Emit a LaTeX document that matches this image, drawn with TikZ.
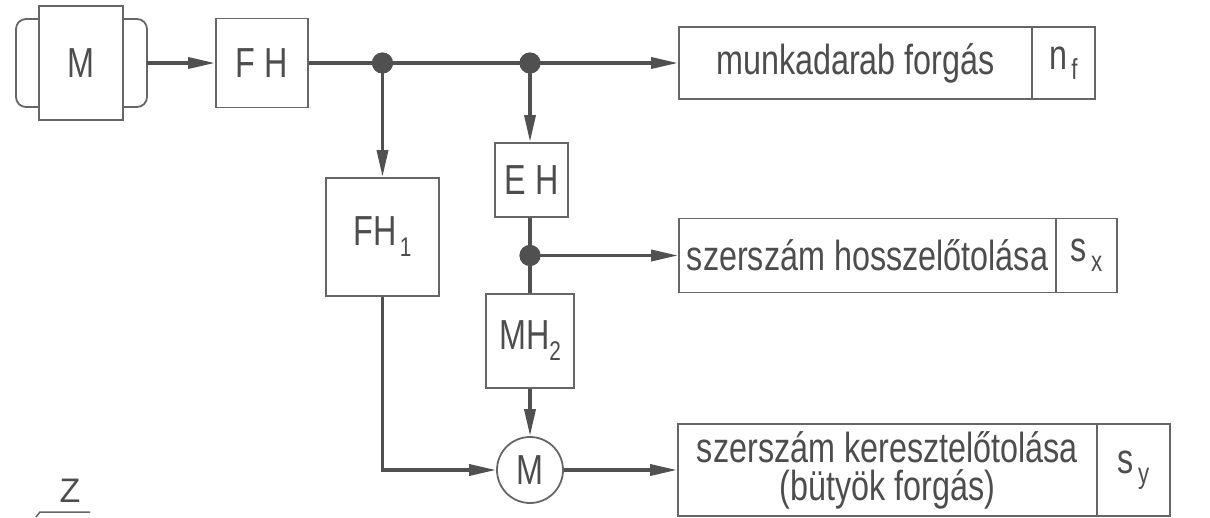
\documentclass[tikz,border=0pt]{standalone}
\usepackage{fontspec}
\setmainfont{Liberation Sans}
\newfontfamily\nar[FakeStretch=0.77]{Liberation Sans}
\usetikzlibrary{arrows.meta}
\definecolor{lc}{HTML}{505050}
\definecolor{tc}{HTML}{4d4d4d}
\definecolor{bc}{HTML}{666666}
\newcommand{\subx}[2]{#1\hspace{4pt}\raisebox{-10pt}{\fontsize{29}{29}\selectfont #2}}
\begin{document}
\begin{tikzpicture}[x=1pt,y=-1pt,
  box/.style={draw=bc, line width=1.8pt, rectangle, inner sep=0pt, text=tc,
    font=\nar\fontsize{42}{38}\selectfont, align=center},
  conn/.style={draw=lc, line width=3.5pt},
  arr/.style={conn, -{Triangle[length=27pt,width=11pt]}},
  dotn/.style={circle, fill=lc, minimum size=21pt, inner sep=0pt},
  brk/.style={draw=bc, line width=1.8pt, rounded corners=10pt}]
\useasboundingbox (0,0) rectangle (1210,517);
% motor
\draw[brk] (40,19) -- (16,19) -- (16,107) -- (40,107);
\draw[brk] (122,19) -- (147,19) -- (147,107) -- (122,107);
\node[box, fill=white, minimum width=84pt, minimum height=114pt] (mot) at (81,63) {M};
\coordinate (mout) at (147,63);
% blocks
\node[box, minimum width=92pt, minimum height=89pt] (fh) at (262,63) {F H};
\node[box, minimum width=113pt, minimum height=118pt] (fh1) at (382.5,237) {FH\hspace{3pt}\raisebox{-11pt}{\fontsize{27}{27}\selectfont 1}};
\node[box, minimum width=73pt, minimum height=74pt] (eh) at (531.5,180) {E H};
\node[box, minimum width=88pt, minimum height=94pt] (mh2) at (530,341) {MH\raisebox{-11pt}{\fontsize{27}{27}\selectfont 2}};
\node[box, circle, minimum size=66pt] (mc) at (530,470) {M};
% output boxes
\node[box, minimum width=353pt, minimum height=72pt] (mf) at (855.5,63) {munkadarab forgás};
\node[box, minimum width=63pt, minimum height=72pt] (nf) at (1063.5,63) {\subx{n}{f}};
\node[box, minimum width=377pt, minimum height=74pt] (hz) at (867.5,255.5) {szerszám hosszelőtolása};
\node[box, minimum width=61pt, minimum height=74pt] (sx) at (1086.5,255.5) {\subx{s}{x}};
\node[box, minimum width=419pt, minimum height=92pt] (kz) at (887.5,470) {szerszám keresztelőtolása\\(bütyök forgás)};
\node[box, minimum width=73pt, minimum height=92pt] (sy) at (1133.5,470) {\subx{s}{y}};
% junction dots
\node[dotn] (d1) at (382.5,63) {};
\node[dotn] (d2) at (530,63) {};
\node[dotn] (d3) at (530,255.5) {};
% connectors
\draw[arr] (mout) -- (fh.west);
\draw[arr] (fh.east) -- (mf.west);
\draw[arr] (d1.center) -- (fh1.north);
\draw[arr] (d2.center) -- (d2.center |- eh.north);
\draw[conn] (d3 |- eh.south) -- (d3 |- mh2.north);
\draw[arr] (d3.center) -- (hz.west);
\draw[arr] (fh1.south) |- (mc.west);
\draw[arr] (mh2.south) -- (mc.north);
\draw[arr] (mc.east) -- (kz.west);
% redraw dots on top
\fill[lc] (d1) circle (10.5pt);
\fill[lc] (d2) circle (10.5pt);
\fill[lc] (d3) circle (10.5pt);
% Z mark
\node[text=tc, font=\fontsize{34}{34}\selectfont] (z) at (70,491) {Z};
\draw[draw=bc, line width=1.5pt] (36,517) -- (40,512) -- (90,512);
\end{tikzpicture}
\end{document}
